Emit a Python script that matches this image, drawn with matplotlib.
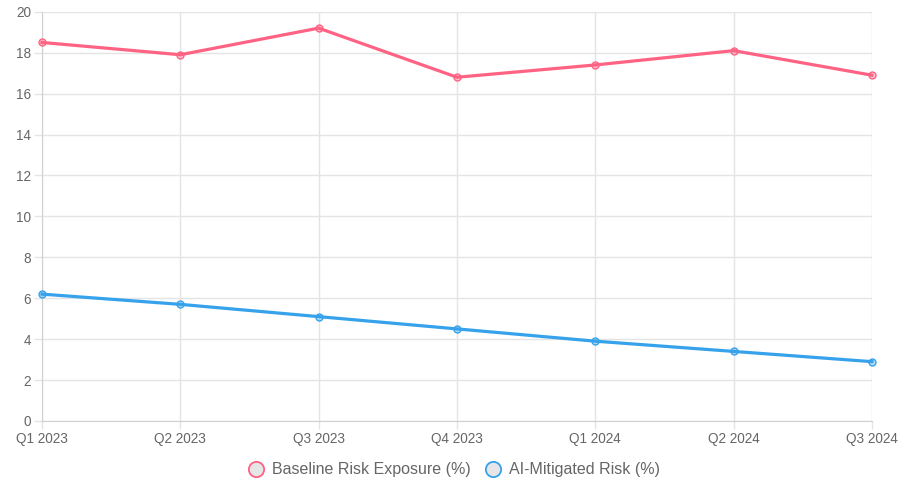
import matplotlib.pyplot as plt
from matplotlib.lines import Line2D
from matplotlib.colors import to_rgba

# data
quarters = ["Q1 2023", "Q2 2023", "Q3 2023", "Q4 2023", "Q1 2024", "Q2 2024", "Q3 2024"]
baseline_risk = [18.5, 17.9, 19.2, 16.8, 17.4, 18.1, 16.9]
ai_mitigated_risk = [6.2, 5.7, 5.1, 4.5, 3.9, 3.4, 2.9]

pink = "#FF6384"
blue = "#36A2EB"
grid_col = "#e4e4e4"
text_col = "#666666"

plt.rcParams["font.family"] = ["Liberation Sans", "DejaVu Sans"]

fig = plt.figure(figsize=(9.07, 4.82), dpi=100)
ax = fig.add_axes([0.0463, 0.1266, 0.915, 0.849])

x = list(range(len(quarters)))
series = [
    ("Baseline Risk Exposure (%)", baseline_risk, pink),
    ("AI-Mitigated Risk (%)", ai_mitigated_risk, blue),
]
for label, vals, col in series:
    ax.plot(x, vals, color=col, lw=2.3, marker="o", ms=5,
            mfc=to_rgba(col, 0.35), mec=col, mew=1.0, zorder=3, clip_on=False)

ax.set_xlim(0, len(quarters) - 1)
ax.set_ylim(0, 20)
ax.set_yticks(range(0, 21, 2))
ax.set_xticks(x)
ax.set_xticklabels(quarters)

ax.grid(True, color=grid_col, lw=1)
ax.set_axisbelow(True)
for side in ["top", "right"]:
    ax.spines[side].set_visible(False)
for side in ["left", "bottom"]:
    ax.spines[side].set_color("#d0d0d0")
ax.tick_params(colors=text_col, labelsize=9.8, length=6, width=1, color=grid_col, pad=2)

# legend: hollow-looking circles like the Chart.js legend
handles = [Line2D([], [], ls="none", marker="o", ms=11, mfc="#e6e6e6", mec=c, mew=1.3)
           for _, _, c in series]
fig.legend(handles, [s[0] for s in series], loc="center", bbox_to_anchor=(0.5, 0.025),
           ncol=2, frameon=False, fontsize=11.5, labelcolor=text_col,
           handletextpad=0.4, columnspacing=0.8, handlelength=1.2)

fig.savefig("out.png", dpi=100)
